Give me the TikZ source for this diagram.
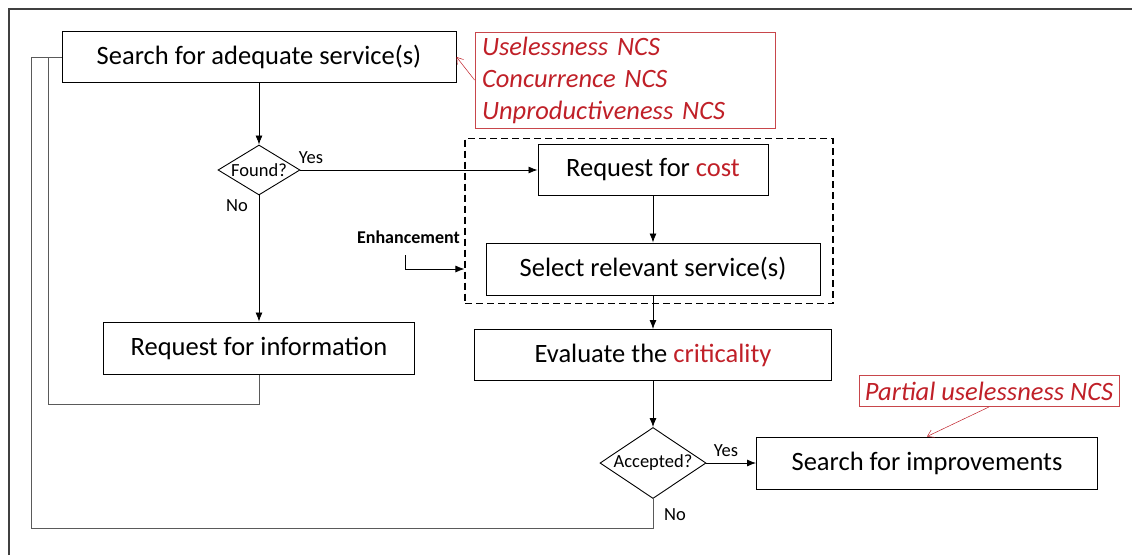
\documentclass[tikz,border=0pt]{standalone}
\usepackage{fontspec}
\setmainfont{Carlito}
\usetikzlibrary{shapes.geometric,arrows.meta}
\definecolor{ncsred}{RGB}{192,32,40}
\definecolor{ncsframe}{RGB}{200,70,75}
\definecolor{loopgray}{RGB}{90,90,90}
\begin{document}
\begin{tikzpicture}[x=1pt,y=-1pt,
		box/.style={draw,line width=1pt,inner sep=0pt,font=\fontsize{26.5}{30}\selectfont},
		cond/.style={draw,diamond,line width=0.9pt,inner sep=0pt,font=\fontsize{18.5}{21}\selectfont},
		note/.style={draw=ncsframe,line width=0.9pt,text=ncsred,inner xsep=7pt,
			font=\fontsize{26.5}{32}\selectfont\itshape,align=left},
		lbl/.style={font=\fontsize{18.5}{21}\selectfont},
		flow/.style={-{Latex[length=9pt,width=7pt]},line width=0.8pt},
		loop/.style={draw=loopgray,line width=0.9pt},
		hint/.style={-{Straight Barb[length=6pt,width=8pt]},draw=ncsred,line width=0.5pt},
	]
	\useasboundingbox (0,0) rectangle (1132,555);
	\draw[darkgray,line width=1.2pt] (9,555) -- (9,9) -- (1132,9);
	\path
		  (259,  57) node[box,minimum width=394,minimum height=51] (search)  {Search for adequate service(s)}
		  (625,  80) node[note,minimum width=300,minimum height=96,text width=286] (ncs)
			{Uselessness NCS\\Concurrence NCS\\Unproductiveness NCS}
		  (259, 170) node[cond,aspect=1.64,minimum width=82,minimum height=50] (found) {Found?}
		  (649, 221) node[draw,line width=1.2pt,dash pattern=on 7pt off 4pt,
			minimum width=368,minimum height=165] (group) {}
		  (653, 170) node[box,minimum width=230,minimum height=51] (cost)    {Request for \textcolor{ncsred}{cost}}
		  (653, 269) node[box,minimum width=334,minimum height=52] (select)  {Select relevant service(s)}
		  (460, 237) node[anchor=east,inner sep=0pt,font=\fontsize{18}{20}\selectfont\bfseries] (enh) {Enhancement}
		  (259, 348) node[box,minimum width=311,minimum height=52] (info)    {Request for information}
		  (653, 355) node[box,minimum width=357,minimum height=51] (eval)    {Evaluate the \textcolor{ncsred}{criticality}}
		  (653, 463) node[cond,aspect=1.5,minimum width=106,minimum height=71] (accept) {Accepted?}
		  (927, 463) node[box,minimum width=341,minimum height=52] (improve) {Search for improvements}
		  (989, 391) node[note,minimum width=260,minimum height=31,inner sep=0pt] (partial) {Partial uselessness NCS}
		  (311, 158) node[lbl] (yes1) {Yes}
		  (237, 206) node[lbl] (no1)  {No}
		  (726, 451) node[lbl] (yes2) {Yes}
		  (675, 515) node[lbl] (no2)  {No}
	;
	\coordinate (enhin) at (405,255);
	\coordinate (loopin) at (48,404);
	\coordinate (loopout) at (31,528);
	\draw[flow] (search)  -- (found);
	\draw[flow] (found)   -- (cost);
	\draw[flow] (found)   -- (info);
	\draw[flow] (cost)    -- (select);
	\draw[flow] (select)  -- (eval);
	\draw[flow] (eval)    -- (accept);
	\draw[flow] (accept)  -- (improve);
	\draw[flow] (enhin)   |- (group.west |- select);
	\draw[loop] (info.south)   |- (loopin)  |- (search.west);
	\draw[loop] (accept.south) |- (loopout) |- (search.west);
	\draw[hint] (ncs.west)      -- (search.east);
	\draw[hint] (partial.south) -- (improve.north);
\end{tikzpicture}
\end{document}
